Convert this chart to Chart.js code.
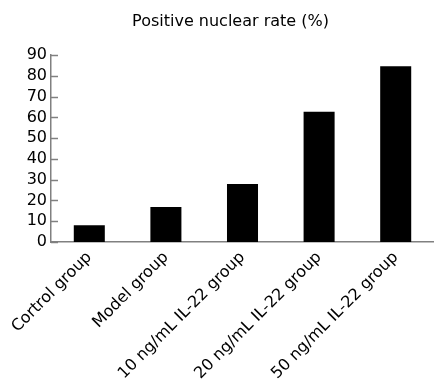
<!DOCTYPE html>
<html>
<head>
<meta charset="utf-8">
<script src="https://cdn.jsdelivr.net/npm/chart.js@4"></script>
<style>
  html, body { margin: 0; padding: 0; background: #fff; }
  #wrap { position: relative; width: 434px; height: 385px; }
</style>
</head>
<body>
<div id="wrap"><canvas id="chart"></canvas></div>
<script>
const categories = ['Cortrol group', 'Model group', '10 ng/mL IL-22 group', '20 ng/mL IL-22 group', '50 ng/mL IL-22 group'];
const rates = [8.1, 16.9, 27.9, 62.7, 84.7];
const yTicks = [0, 10, 20, 30, 40, 50, 60, 70, 80, 90];

const axisGray = '#808080';

// tick marks sit inside the plot, to the right of the y axis
const innerTicks = {
  id: 'innerTicks',
  afterDraw(chart) {
    const y = chart.scales.y;
    const ctx = chart.ctx;
    ctx.save();
    ctx.strokeStyle = axisGray;
    ctx.lineWidth = 1.5;
    y.ticks.forEach((t, i) => {
      const py = Math.round(y.getPixelForTick(i)) + 0.5;
      ctx.beginPath();
      ctx.moveTo(y.right, py);
      ctx.lineTo(y.right + 7, py);
      ctx.stroke();
    });
    ctx.restore();
  }
};

new Chart(document.getElementById('chart'), {
  type: 'bar',
  data: {
    labels: categories,
    datasets: [{
      data: rates,
      backgroundColor: '#000',
      borderWidth: 0,
      barPercentage: 0.405,
      categoryPercentage: 1
    }]
  },
  options: {
    responsive: true,
    maintainAspectRatio: false,
    animation: false,
    layout: { padding: { left: 27, right: 0, top: 0, bottom: 0 } },
    plugins: {
      legend: { display: false },
      tooltip: { enabled: false },
      title: {
        display: true,
        text: 'Positive nuclear rate (%)',
        color: '#000',
        font: { family: 'DejaVu Sans', size: 16, weight: 'normal' },
        padding: { top: 12, bottom: 24 }
      }
    },
    scales: {
      x: {
        afterFit(scale) {
          scale.height = 143;
          scale.paddingLeft = 0;
          scale.paddingRight = 0;
        },
        grid: { display: false, drawTicks: false },
        border: { display: true, color: axisGray, width: 1.5 },
        ticks: {
          color: '#000',
          font: { family: 'DejaVu Sans', size: 16 },
          maxRotation: 45,
          minRotation: 45,
          padding: 6
        }
      },
      y: {
        min: 0,
        max: 90,
        afterBuildTicks(scale) {
          scale.ticks = yTicks.map(v => ({ value: v }));
        },
        afterFit(scale) {
          scale.width = 24;
          scale.paddingTop = 0;
          scale.paddingBottom = 0;
        },
        grid: { display: false, drawTicks: false },
        border: { display: true, color: axisGray, width: 1.5 },
        ticks: {
          color: '#000',
          font: { family: 'DejaVu Sans', size: 16 },
          padding: 4,
          autoSkip: false,
          stepSize: 10
        }
      }
    }
  },
  plugins: [innerTicks]
});
</script>
</body>
</html>
